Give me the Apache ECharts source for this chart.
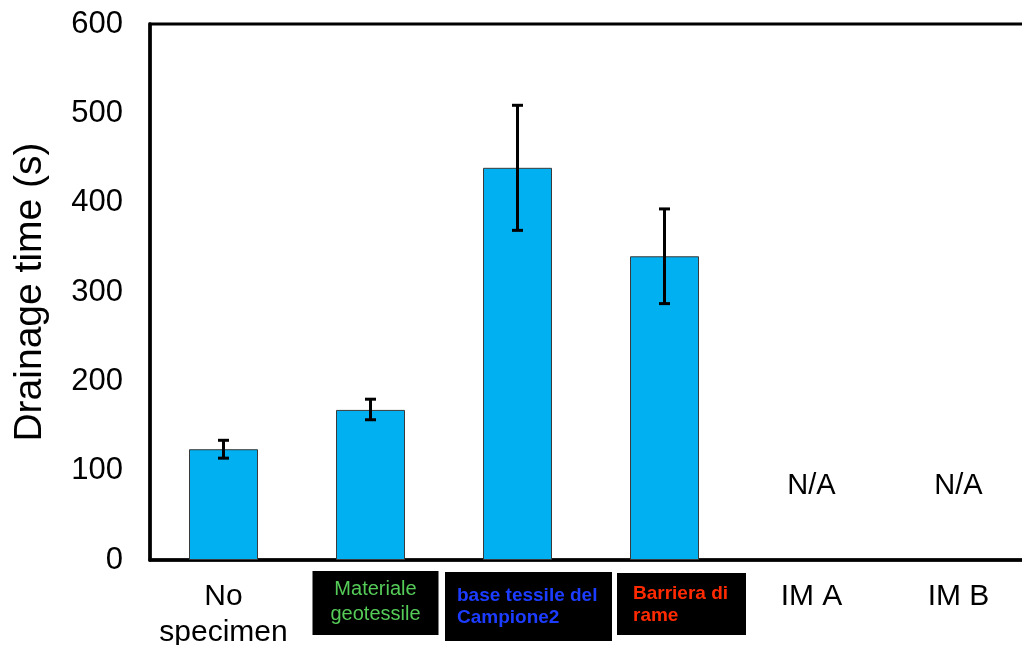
<!DOCTYPE html>
<html>
<head>
<meta charset="utf-8">
<script src="https://cdn.jsdelivr.net/npm/echarts@6/dist/echarts.min.js"></script>
<style>
  html, body { margin: 0; padding: 0; background: #fff; }
  #chart { width: 1022px; height: 645px; }
</style>
</head>
<body>
<div id="chart"></div>
<script>
// ---- data ----
const categories = ['No\nspecimen', 'Materiale\ngeotessile', 'base tessile del\nCampione2', 'Barriera di\nrame', 'IM A', 'IM B'];
const drainageTime = [124, 168, 439, 340, null, null];
const errorLow = [114, 157, 369, 287, null, null];
const errorHigh = [134, 180, 509, 393, null, null];
const notAvailable = [false, false, false, false, true, true];
const notAvailableLabel = 'N/A';
const notAvailableLevel = 83;
const yMin = 0;
const yMax = 600;
const yStep = 100;

// ---- styling ----
const FONT = "'Liberation Sans', Arial, Helvetica, sans-serif";

// category labels drawn inside black boxes (keyed by category index)
const boxed = {
  1: { shift: 5,  width: 126, gap: 1, padTop: 6,  padBottom: 8,  lineHeight: 25, padLeft: 0,  color: '#55cc58', fontWeight: 'normal', fontSize: 20 },
  2: { shift: 11, width: 167, gap: 2, padTop: 13, padBottom: 12, lineHeight: 22, padLeft: 12, color: '#1c3cff', fontWeight: 'bold',   fontSize: 19 },
  3: { shift: 17, width: 129, gap: 3, padTop: 10, padBottom: 8,  lineHeight: 22, padLeft: 16, color: '#ff2a00', fontWeight: 'bold',   fontSize: 19 }
};

const rich = {
  plainGap: { width: 1, height: 9, align: 'center' },
  plain: { fontSize: 30, lineHeight: 36, height: 36, color: '#000', fontFamily: FONT, align: 'center' }
};
Object.keys(boxed).forEach(function (k) {
  const s = boxed[k], p = 'b' + k;
  rich[p + 'gap'] = { width: 1, height: s.gap, align: 'left' };
  rich[p + 'sp'] = { width: 2 * s.shift, height: 1, align: 'left' };
  rich[p + 'padT'] = { width: s.width, height: s.padTop, backgroundColor: '#000', align: 'left' };
  rich[p + 'padB'] = { width: s.width, height: s.padBottom, backgroundColor: '#000', align: 'left' };
  rich[p + 'tx'] = {
    width: s.padLeft ? s.width - s.padLeft : s.width,
    padding: s.padLeft ? [0, 0, 0, s.padLeft] : 0,
    align: s.padLeft ? 'left' : 'center',
    height: s.lineHeight, lineHeight: s.lineHeight, backgroundColor: '#000',
    color: s.color, fontSize: s.fontSize, fontWeight: s.fontWeight, fontFamily: FONT
  };
});

function categoryLabel(value, idx) {
  const lines = String(value).split('\n');
  const s = boxed[idx];
  if (!s) {
    return '{plainGap|}\n' + lines.map(function (l) { return '{plain|' + l + '}'; }).join('\n');
  }
  const p = 'b' + idx;
  const sp = '{' + p + 'sp|}';
  const out = ['{' + p + 'gap|}', sp + '{' + p + 'padT|}'];
  lines.forEach(function (l) {
    out.push(sp + '{' + p + 'tx|' + l + '}');
  });
  out.push(sp + '{' + p + 'padB|}');
  return out.join('\n');
}

const errorData = [];
const naData = [];
categories.forEach(function (c, i) {
  if (errorLow[i] != null) errorData.push([i, errorLow[i], errorHigh[i]]);
  if (notAvailable[i]) naData.push([i, notAvailableLevel]);
});

const chart = echarts.init(document.getElementById('chart'), null, { renderer: 'canvas' });
chart.setOption({
  animation: false,
  backgroundColor: '#fff',
  grid: {
    left: 150, top: 24, width: 882, height: 536,
    containLabel: false,
    outerBoundsMode: 'none',
    show: true, borderColor: '#000', borderWidth: 3, backgroundColor: 'transparent'
  },
  xAxis: {
    type: 'category',
    data: categories,
    axisTick: { show: false },
    axisLine: { show: true, lineStyle: { color: '#000', width: 3.5 } },
    axisLabel: {
      interval: 0, margin: 10, color: '#000', fontFamily: FONT,
      formatter: categoryLabel,
      rich: rich
    },
    splitLine: { show: false }
  },
  yAxis: {
    type: 'value',
    min: yMin, max: yMax, interval: yStep,
    name: 'Drainage time (s)',
    nameLocation: 'middle',
    nameGap: 100,
    nameTextStyle: { fontSize: 39, color: '#000', fontFamily: FONT },
    axisLine: { show: true, lineStyle: { color: '#000', width: 3.5 } },
    axisTick: { show: false },
    splitLine: { show: false },
    axisLabel: { fontSize: 31, color: '#000', margin: 27, fontFamily: FONT }
  },
  series: [
    {
      type: 'bar',
      data: drainageTime,
      barWidth: 69,
      itemStyle: { color: '#00b0f0', borderColor: '#3a3a3a', borderWidth: 1 },
      z: 2
    },
    {
      type: 'custom',
      data: errorData,
      encode: { x: 0, y: [1, 2] },
      z: 3,
      renderItem: function (params, api) {
        const x = api.value(0);
        const lo = api.coord([x, api.value(1)]);
        const hi = api.coord([x, api.value(2)]);
        const half = 5.5;
        const style = { stroke: '#000', lineWidth: 3 };
        return {
          type: 'group',
          children: [
            { type: 'line', shape: { x1: lo[0], y1: lo[1], x2: hi[0], y2: hi[1] }, style: style },
            { type: 'line', shape: { x1: hi[0] - half, y1: hi[1], x2: hi[0] + half, y2: hi[1] }, style: style },
            { type: 'line', shape: { x1: lo[0] - half, y1: lo[1], x2: lo[0] + half, y2: lo[1] }, style: style }
          ]
        };
      }
    },
    {
      type: 'scatter',
      data: naData,
      symbolSize: 0,
      itemStyle: { opacity: 1 },
      label: {
        show: true, position: 'inside', formatter: notAvailableLabel,
        fontSize: 29, color: '#000', opacity: 1, fontFamily: FONT
      },
      z: 4
    }
  ]
});
</script>
</body>
</html>
